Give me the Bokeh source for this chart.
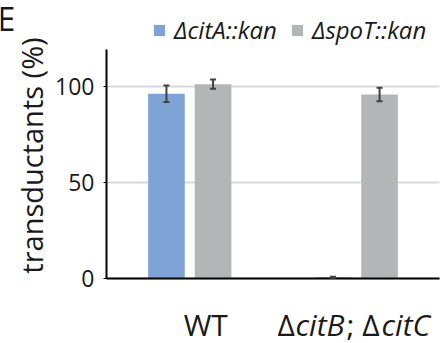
from bokeh.plotting import figure
from bokeh.models import (ColumnDataSource, Range1d, Whisker, Legend, LegendItem,
                          FixedTicker, TeeHead, LinearAxis)
from bokeh.core.properties import value
from bokeh.embed import file_html
from bokeh.resources import INLINE

# ---------------- data ----------------
categories = ["WT", "ΔcitB; ΔcitC"]
series_names = ["ΔcitA::kan", "ΔspoT::kan"]
citA_vals = [96.2, 0.5]
citA_err = [4.3, 0.3]
spoT_vals = [101.2, 95.8]
spoT_err = [2.4, 3.5]
y_ticks = [0, 50, 100]

# ---------------- style / layout ----------------
FONT = "Open Sans"
BLUE = "#7FA3D5"
GRAY = "#B3B6B6"
ERR = "#404040"
TXT = "#1a1a1a"
W, H = 443, 343
LEFT, BOTTOM = 106, 277.7          # page position of x=0 / y=0
PX = 166.5                          # px per category
PY = 1.917                          # px per y unit
Y_TOP = 119.5                       # top of the y axis
OFF, BW = 0.14, 0.22                # dodge offset and bar width (category units)

cat_x = [i + 0.5 for i in range(len(categories))]

src = ColumnDataSource(dict(
    xa=[c - OFF for c in cat_x], xs=[c + OFF for c in cat_x],
    a=citA_vals, a_lo=[v - e for v, e in zip(citA_vals, citA_err)],
    a_hi=[v + e for v, e in zip(citA_vals, citA_err)],
    s=spoT_vals, s_lo=[v - e for v, e in zip(spoT_vals, spoT_err)],
    s_hi=[v + e for v, e in zip(spoT_vals, spoT_err)],
))

p = figure(width=W, height=H, output_backend="svg", toolbar_location=None,
           x_range=Range1d(-LEFT / PX, (W - LEFT) / PX),
           y_range=Range1d(-(H - BOTTOM) / PY, BOTTOM / PY),
           min_border=0, min_border_left=0, min_border_right=0,
           min_border_top=0, min_border_bottom=0)
p.outline_line_color = None
p.background_fill_color = "white"
p.border_fill_color = "white"

r_a = p.vbar(x="xa", top="a", width=BW, source=src, fill_color=BLUE, line_color=None)
r_s = p.vbar(x="xs", top="s", width=BW, source=src, fill_color=GRAY, line_color=None)

for base, lo, hi in [("xa", "a_lo", "a_hi"), ("xs", "s_lo", "s_hi")]:
    p.add_layout(Whisker(base=base, lower=lo, upper=hi, source=src, level="annotation",
                         line_color=ERR, line_width=2,
                         upper_head=TeeHead(size=6, line_color=ERR, line_width=2),
                         lower_head=TeeHead(size=6, line_color=ERR, line_width=2)))

# ---- y axis (library axis, pinned at x=0) ----
ya = p.yaxis[0]
ya.fixed_location = 0
ya.bounds = (0, Y_TOP)
ya.ticker = FixedTicker(ticks=y_ticks)
ya.axis_line_color = "black"
ya.axis_line_width = 2
ya.major_tick_out = 3
ya.major_tick_in = 0
ya.major_tick_line_color = "black"
ya.minor_tick_line_color = None
ya.major_label_text_font = FONT
ya.major_label_text_font_size = "23px"
ya.major_label_text_color = TXT
ya.major_label_standoff = 9

# axis title carried by a second (tick-less) y axis so it can be centred like the reference
yl = LinearAxis(fixed_location=0, bounds=((BOTTOM - 270) / PY, (BOTTOM - 40) / PY),
                ticker=FixedTicker(ticks=[]), axis_line_color=None,
                major_tick_line_color=None, minor_tick_line_color=None,
                major_label_text_font_size="0px",
                axis_label="transductants (%)", axis_label_text_font=FONT,
                axis_label_text_font_style="normal", axis_label_text_font_size="29px",
                axis_label_text_color=TXT, axis_label_standoff=56)
p.add_layout(yl, "left")

# ---- x axis (library axis, pinned at y=0) ----
xa = p.xaxis[0]
xa.fixed_location = 0
xa.bounds = (0, len(categories))
xa.ticker = FixedTicker(ticks=[])
xa.axis_line_color = "black"
xa.axis_line_width = 2
xa.major_tick_line_color = None
xa.minor_tick_line_color = None
xa.major_label_text_font_size = "0px"

p.xgrid.grid_line_color = None
p.ygrid.ticker = FixedTicker(ticks=y_ticks)
p.ygrid.grid_line_color = "#D9D9D9"
p.ygrid.grid_line_width = 2
p.ygrid.cross_bounds = (0, len(categories))

# ---- category labels (Δ upright, gene names italic) ----
lab_y = (BOTTOM - 324) / PY
p.text(x=[cat_x[0] + 16 / PX], y=[lab_y], text=[categories[0]],
       text_font=value(FONT), text_font_size=value("30px"), text_color=TXT,
       text_align="center", text_baseline="alphabetic")
name2 = categories[1]                      # "ΔcitB; ΔcitC"
pieces = [name2[0], name2[1:5], name2[5:8], name2[8:]]   # Δ | citB | "; Δ" | citC
italic = [False, True, False, True]
piece_off = [0, 18, 69, 104]
x2 = (277 - LEFT) / PX
for t, it, o in zip(pieces, italic, piece_off):
    p.text(x=[x2], y=[lab_y], text=[t], x_offset=o,
           text_font=value(FONT), text_font_size=value("30px"), text_color=TXT,
           text_font_style="italic" if it else "normal",
           text_align="left", text_baseline="alphabetic")

# ---- panel letter ----
p.text(x=[-LEFT / PX], y=[(BOTTOM - 18) / PY], text=["E"], x_offset=-3,
       text_font=value(FONT), text_font_size=value("32px"), text_color=TXT,
       text_align="left", text_baseline="alphabetic")

# ---- legend ----
legend = Legend(items=[LegendItem(label=series_names[0], renderers=[r_a]),
                       LegendItem(label=series_names[1], renderers=[r_s])],
                orientation="horizontal", location=(152, 297),
                padding=0, margin=0, spacing=13, label_standoff=8,
                glyph_width=14, glyph_height=14,
                label_text_font=FONT, label_text_font_size="24px",
                label_text_font_style="italic", label_text_color=TXT,
                border_line_color=None, background_fill_alpha=0)
p.add_layout(legend, "center")

open("out.html", "w").write(file_html(p, INLINE))
